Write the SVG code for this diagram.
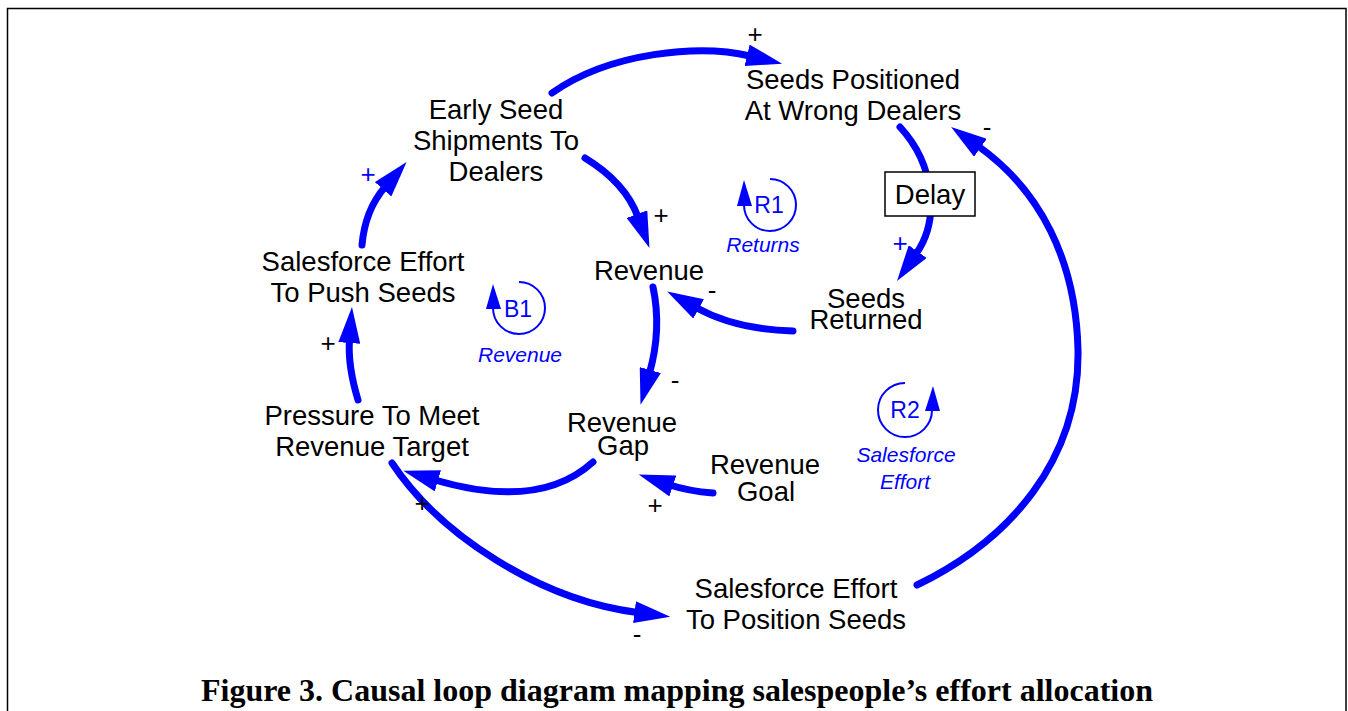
<svg xmlns="http://www.w3.org/2000/svg" width="1348" height="711" viewBox="0 0 1348 711">
<style>
.n{font-family:"Liberation Sans",Arial,sans-serif;font-size:27.5px;fill:#000;text-anchor:middle}
.s{font-family:"Liberation Sans",Arial,sans-serif;font-size:26px;text-anchor:middle}
.k{fill:#000}
.b{fill:#0000ff}
.lt{font-family:"Liberation Sans",Arial,sans-serif;font-size:23px;fill:#0000ff;text-anchor:middle}
.li{font-family:"Liberation Sans",Arial,sans-serif;font-size:21px;font-style:italic;fill:#0000ff;text-anchor:middle}
.c{fill:none;stroke:#0000ff;stroke-width:7;stroke-linecap:round}
.loop{fill:none;stroke:#0000ff;stroke-width:2}
.cap{font-family:"Liberation Serif","Times New Roman",serif;font-size:32px;font-weight:bold;fill:#000;text-anchor:middle}
</style>
<defs>
<marker id="ah" viewBox="0 0 36 22" markerWidth="36" markerHeight="22" markerUnits="userSpaceOnUse" refX="3" refY="11" orient="auto">
<path d="M0,0 L36,11 L0,22 z" fill="#0000ff"/>
</marker>
</defs>
<rect x="7.5" y="8.5" width="1338.5" height="720" fill="#fff" stroke="#000" stroke-width="1.5"/>

<g id="connectors">
<path class="c" marker-end="url(#ah)" d="M552,93 C610,52 700,44 750,56"/>
<path class="c" marker-end="url(#ah)" d="M585,158 C608,172 628,190 638,217"/>
<path class="c" marker-end="url(#ah)" d="M362,245 C364,222 372,202 385,187"/>
<path class="c" marker-end="url(#ah)" d="M358,400 C352,380 348,360 349.5,340"/>
<path class="c" marker-end="url(#ah)" d="M653,287 C660,320 656,350 649.5,373"/>
<path class="c" marker-end="url(#ah)" d="M793,331 C755,330 722,322 696,307.5"/>
<path class="c" marker-end="url(#ah)" d="M900,127 C935,165 940,220 916,254"/>
<path class="c" marker-end="url(#ah)" d="M917,585 C1010,540 1080,460 1078,350 C1076,260 1040,190 978,146"/>
<path class="c" marker-end="url(#ah)" d="M593,462 C560,492 510,502 435,480"/>
<path class="c" marker-end="url(#ah)" d="M713,493 C700,492 685,490 670,485"/>
<path class="c" marker-end="url(#ah)" d="M392,463 C440,535 540,600 637.5,612.5"/>
<text class="s k" x="755" y="43">+</text>
<text class="s k" x="661" y="224">+</text>
<text class="s b" x="368" y="183">+</text>
<text class="s k" x="328" y="352">+</text>
<text class="s k" x="675" y="389">-</text>
<text class="s k" x="712" y="299">-</text>
<text class="s b" x="900" y="252">+</text>
<text class="s k" x="987" y="136">-</text>
<text class="s k" x="422" y="512">+</text>
<text class="s k" x="655" y="514">+</text>
<text class="s k" x="637" y="643">-</text>
</g>

<g id="early-seed">
<text class="n" x="496" y="119">Early Seed</text>
<text class="n" x="496" y="150">Shipments To</text>
<text class="n" x="496" y="181">Dealers</text>
</g>
<g id="seeds-positioned">
<text class="n" x="853" y="89">Seeds Positioned</text>
<text class="n" x="853" y="120">At Wrong Dealers</text>
</g>
<g id="delay">
<rect x="885" y="172" width="90" height="44" fill="#fff" stroke="#000" stroke-width="1.5"/>
<text class="n" x="930" y="204">Delay</text>
</g>
<g id="revenue">
<text class="n" x="649" y="280">Revenue</text>
</g>
<g id="seeds-returned">
<text class="n" x="866" y="308">Seeds</text>
<text class="n" x="866" y="329">Returned</text>
</g>
<g id="push-seeds">
<text class="n" x="363" y="271">Salesforce Effort</text>
<text class="n" x="363" y="302">To Push Seeds</text>
</g>
<g id="pressure">
<text class="n" x="372" y="425">Pressure To Meet</text>
<text class="n" x="372" y="456">Revenue Target</text>
</g>
<g id="revenue-gap">
<text class="n" x="622" y="432">Revenue</text>
<text class="n" x="623" y="455">Gap</text>
</g>
<g id="revenue-goal">
<text class="n" x="765" y="474">Revenue</text>
<text class="n" x="766" y="501">Goal</text>
</g>
<g id="position-seeds">
<text class="n" x="796" y="598">Salesforce Effort</text>
<text class="n" x="796" y="629">To Position Seeds</text>
</g>

<g id="loop-R1">
<path class="loop" d="M770,179 A26,26 0 1 1 744,205"/>
<polygon points="737,206 752,206 744,180" fill="#0000ff"/>
<text class="lt" x="769" y="213">R1</text>
<text class="li" x="763" y="252">Returns</text>
</g>
<g id="loop-B1">
<path class="loop" d="M519,282 A26,26 0 1 1 493,308"/>
<polygon points="486,309 501,309 493,284" fill="#0000ff"/>
<text class="lt" x="518" y="317">B1</text>
<text class="li" x="520" y="362">Revenue</text>
</g>
<g id="loop-R2">
<path class="loop" d="M905,383 A27,27 0 1 0 932,410"/>
<polygon points="925,411 940,411 933,386" fill="#0000ff"/>
<text class="lt" x="905" y="418">R2</text>
<text class="li" x="906" y="462">Salesforce</text>
<text class="li" x="905" y="489">Effort</text>
</g>

<text class="cap" x="677" y="701">Figure 3. Causal loop diagram mapping salespeople’s effort allocation</text>
</svg>
